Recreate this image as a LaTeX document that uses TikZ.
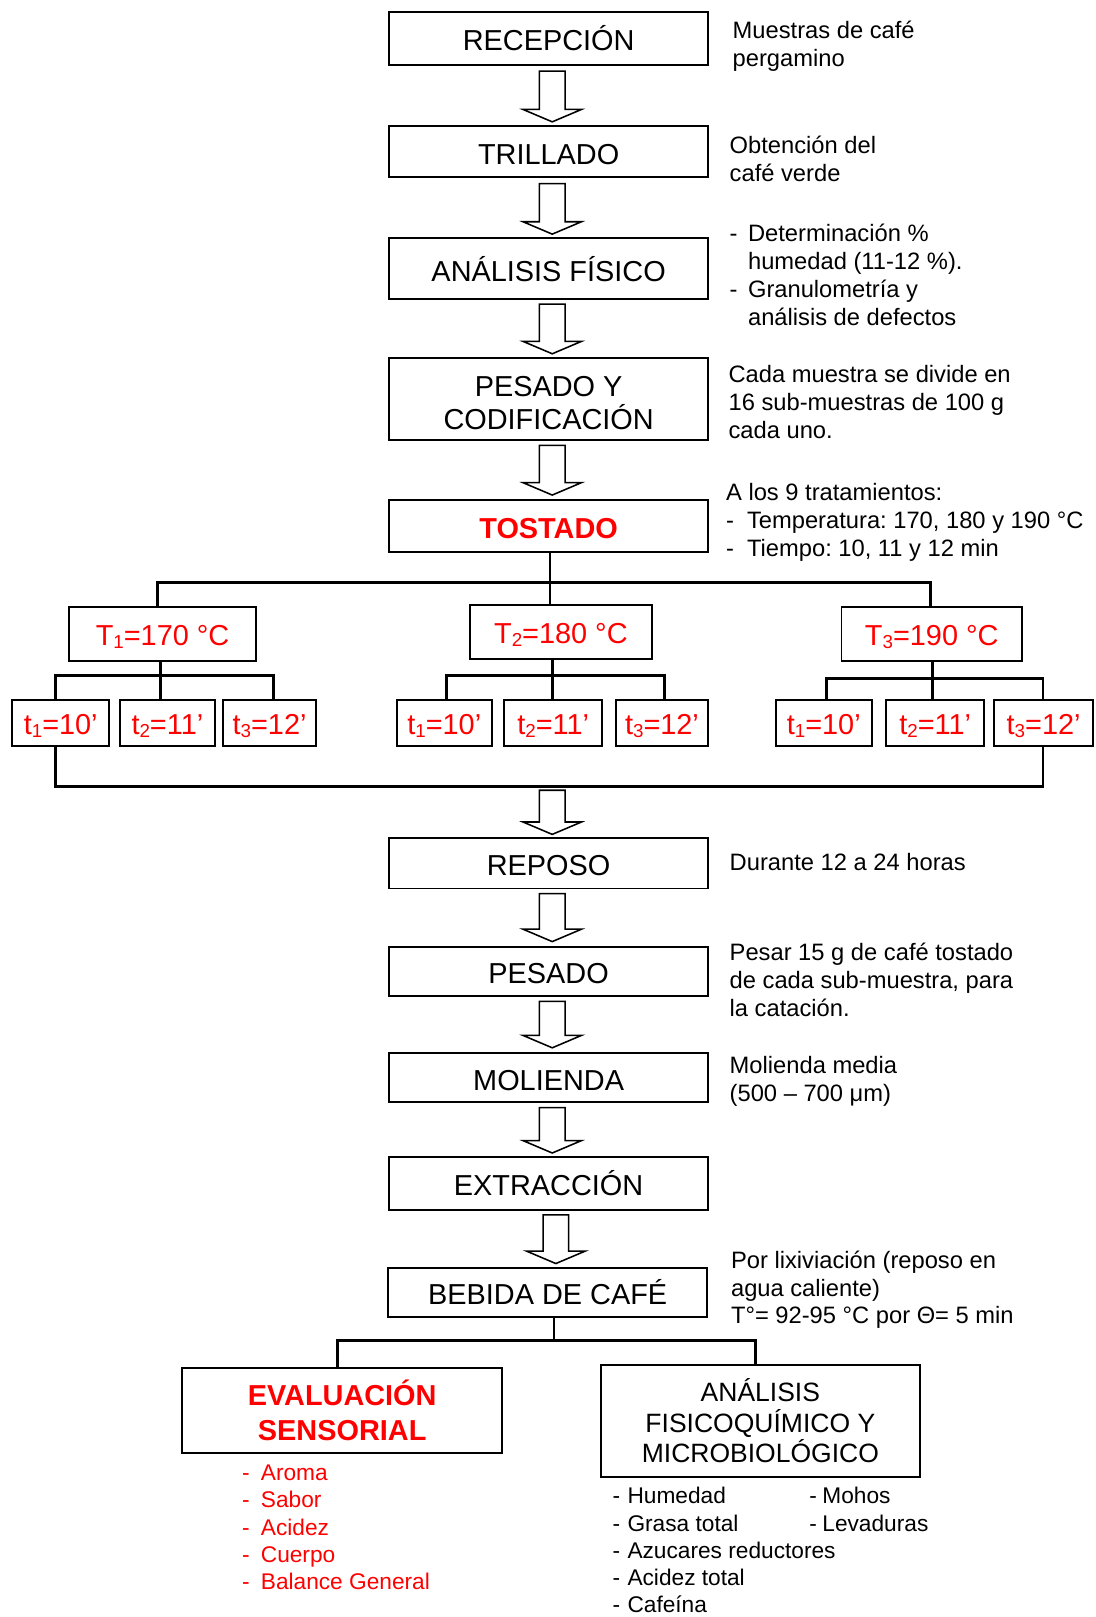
\documentclass[tikz,border=0pt]{standalone}
\usepackage{fontspec}
\setmainfont{Liberation Sans}
\usetikzlibrary{calc}
% small lowered index, as in T1, t2
\newcommand\sbs[1]{\raisebox{-0.1em}{\scalebox{0.65}{#1}}}
% hollow block arrow from a top point (#1) down to a tip (#2)
\newcommand\bigarrow[2]{%
  \draw[blockarrow] let \p1=(#1), \p2=(#2) in
    (\x1-12.4pt,\y1) -- (\x1+12.4pt,\y1) -- (\x1+12.4pt,\y2+12pt) --
    (\x1+28.3pt,\y2+12pt) -- (\x1,\y2) -- (\x1-28.3pt,\y2+12pt) --
    (\x1-12.4pt,\y2+12pt) -- cycle;}

\begin{document}
\frenchspacing
\begin{tikzpicture}[x=1pt,y=-1pt,
  box/.style={draw=black, line width=1.9pt, inner sep=0pt, align=center,
    font=\fontsize{28}{32}\selectfont},
  mainbox/.style={box, minimum width=310pt, text height=24pt, text depth=0pt},
  tempbox/.style={box, text=red, minimum height=52pt, text height=22pt, text depth=0pt},
  timebox/.style={box, text=red, minimum height=45.3pt, text height=22pt, text depth=0pt},
  link/.style={draw=black, line width=2.7pt, line join=miter},
  blockarrow/.style={draw=black, line width=1.5pt, fill=white, line join=miter},
  side/.style={anchor=north west, inner sep=0pt, align=left,
    font={\fontsize{23}{27}\selectfont\lineskiplimit=-30pt}},
  listtext/.style={anchor=north west, inner sep=0pt, align=left,
    font={\fontsize{22}{26.4}\selectfont\lineskiplimit=-30pt}}
]
\fill[white] (0,0) rectangle (1062,1568);
\useasboundingbox (0,0) rectangle (1062,1568);

% ---- main process column ----
\node[mainbox, minimum height=51.7pt] (rec) at (532,37.2) {RECEPCIÓN};
\node[mainbox, minimum height=50pt] (tri) at (532,147.1) {TRILLADO};
\node[mainbox, minimum height=59pt] (ana) at (532,260.5) {ANÁLISIS FÍSICO};
\node[box, minimum width=310pt, minimum height=80pt] (pes) at (532,387)
  {\rule{0pt}{28pt}PESADO Y\\CODIFICACIÓN};
\node[mainbox, minimum height=50pt, text=red,
  font=\fontsize{28}{32}\selectfont\bfseries] (tos) at (532,510) {TOSTADO};

% ---- roasting temperatures ----
\node[tempbox, minimum width=182.2pt] (T1) at (157.6,614.8) {T\sbs{1}=170 °C};
\node[tempbox, minimum width=176pt] (T2) at (543.9,613.1) {T\sbs{2}=180 °C};
\node[tempbox, minimum width=175pt] (T3) at (903.5,614.9) {T\sbs{3}=190 °C};

% ---- roasting times ----
\node[timebox, minimum width=93.6pt] (a1) at (58.9,701) {t\sbs{1}=10’};
\node[timebox, minimum width=92.5pt] (a2) at (162.3,701) {t\sbs{2}=11’};
\node[timebox, minimum width=89.7pt] (a3) at (261.4,701) {t\sbs{3}=12’};
\node[timebox, minimum width=92.5pt] (b1) at (430.8,701) {t\sbs{1}=10’};
\node[timebox, minimum width=95pt] (b2) at (536.5,701) {t\sbs{2}=11’};
\node[timebox, minimum width=90pt] (b3) at (641.9,701) {t\sbs{3}=12’};
\node[timebox, minimum width=92.6pt] (c1) at (798.8,701) {t\sbs{1}=10’};
\node[timebox, minimum width=95.4pt] (c2) at (906.9,701) {t\sbs{2}=11’};
\node[timebox, minimum width=96pt] (c3) at (1012,701) {t\sbs{3}=12’};

% ---- after roasting ----
\node[mainbox, minimum height=48.5pt] (rep) at (532,837.3) {REPOSO};
\node[mainbox, minimum height=48pt] (pesa) at (532,942) {PESADO};
\node[mainbox, minimum height=48pt] (mol) at (532,1045) {MOLIENDA};
\node[mainbox, minimum height=51pt] (ext) at (532,1147.5) {EXTRACCIÓN};
\node[mainbox, minimum width=309.4pt, minimum height=48pt] (beb) at (531.1,1253.2) {BEBIDA DE CAFÉ};
\node[box, minimum width=310.3pt, minimum height=82.2pt, text=red,
  font=\fontsize{28}{33}\selectfont\bfseries] (eval) at (331.8,1367.6) {EVALUACIÓN\\SENSORIAL};
\node[box, minimum width=309.8pt, minimum height=109pt,
  font=\fontsize{25.7}{29.5}\selectfont] (fq) at (737.3,1377.8)
  {ANÁLISIS\\FISICOQUÍMICO Y\\MICROBIOLÓGICO};

% ---- junctions ----
\coordinate (barT) at (533.4,564.5);
\coordinate (jA) at (155.9,655.4);
\coordinate (jB) at (535.8,655.4);
\coordinate (jC) at (903.9,657.6);
\coordinate (col) at (535.5,762.3);
\coordinate (jD) at (537.3,1299.7);

% ---- tree connectors ----
\draw[link] (tos.south -| barT) -- (barT |- T2.north);
\draw[link] ([xshift=-5.2pt]T1.north) |- (barT) -| ([xshift=-1.4pt]T3.north);

\draw[link] (T1.south -| jA) -- (jA |- a2.north);
\draw[link] ([xshift=-5.2pt]a1.north) |- (jA) -| ([xshift=3.5pt]a3.north);
\draw[link] (T2.south -| jB) -- (jB |- b2.north);
\draw[link] ([xshift=1.8pt]b1.north) |- (jB) -| ([xshift=2.7pt]b3.north);
\draw[link] (T3.south -| jC) -- (jC |- c2.north);
\draw[link] ([xshift=2.4pt]c1.north) |- (jC) -| ([xshift=-0.7pt]c3.north);

\draw[link] ([xshift=-5.2pt]a1.south) |- (col) -| ([xshift=-0.7pt]c3.south);

\draw[link] (beb.south -| jD) -- (jD);
\draw[link] ([xshift=-4.7pt]eval.north) |- (jD) -| ([xshift=-4.9pt]fq.north);

% ---- block arrows ----
\bigarrow{[xshift=3.5pt,yshift=-5pt]rec.south}{[yshift=3pt]tri.north}
\bigarrow{[xshift=3.5pt,yshift=-5pt]tri.south}{[yshift=3pt]ana.north}
\bigarrow{[xshift=3.5pt,yshift=-4pt]ana.south}{[yshift=3pt]pes.north}
\bigarrow{[xshift=3.5pt,yshift=-4pt]pes.south}{[yshift=4pt]tos.north}
\bigarrow{[yshift=-4pt]col}{[yshift=3pt]rep.north}
\bigarrow{[xshift=3.5pt,yshift=-4pt]rep.south}{[yshift=4pt]pesa.north}
\bigarrow{[xshift=3.5pt,yshift=-4pt]pesa.south}{[yshift=4pt]mol.north}
\bigarrow{[xshift=3.5pt,yshift=-4pt]mol.south}{[yshift=3pt]ext.north}
\bigarrow{[xshift=7pt,yshift=-4pt]ext.south}{[yshift=3pt]beb.north}

% ---- side notes ----
\node[side] (n1) at (710.3,18.0) {\strut Muestras de café\\pergamino};
\node[side] (n2) at (707.4,130.2) {\strut Obtención del\\café verde};
\node[side] (n3) at (707.4,215.5) {\strut\makebox[17.8pt][l]{-}Determinación \%\\
  \hspace*{17.8pt}humedad (11-12 \%).\\
  \makebox[17.8pt][l]{-}Granulometría y\\
  \hspace*{17.8pt}análisis de defectos};
\node[side] (n4) at (706.3,351.8) {\strut Cada muestra se divide en\\16 sub-muestras de 100 g\\cada uno.};
\node[side] (n5) at (703.9,466.2) {\strut A los 9 tratamientos:\\
  \makebox[20.3pt][l]{-}Temperatura: 170, 180 y 190 °C\\
  \makebox[20.3pt][l]{-}Tiempo: 10, 11 y 12 min};
\node[side] (n6) at (707.4,824.9) {\strut Durante 12 a 24 horas};
\node[side] (n7) at (707.4,912.6) {\strut Pesar 15 g de café tostado\\de cada sub-muestra, para\\la catación.};
\node[side] (n8) at (707.4,1022.1) {\strut Molienda media\\(500 – 700 μm)};
\node[side] (n9) at (708.7,1210.7) {\strut Por lixiviación (reposo en\\agua caliente)\\T°= 92-95 °C por Θ= 5 min};

% ---- analysis lists ----
\node[listtext, text=red] (sens) at (234.5,1417) {\strut\makebox[18.3pt][l]{-}Aroma\\
  \makebox[18.3pt][l]{-}Sabor\\
  \makebox[18.3pt][l]{-}Acidez\\
  \makebox[18.3pt][l]{-}Cuerpo\\
  \makebox[18.3pt][l]{-}Balance General};
\node[listtext] (fqa) at (593.8,1439.6) {\strut\makebox[14.5pt][l]{-}Humedad\\
  \makebox[14.5pt][l]{-}Grasa total\\
  \makebox[14.5pt][l]{-}Azucares reductores\\
  \makebox[14.5pt][l]{-}Acidez total\\
  \makebox[14.5pt][l]{-}Cafeína};
\node[listtext] (fqb) at (784.6,1439.6) {\strut\makebox[12.7pt][l]{-}Mohos\\
  \makebox[12.7pt][l]{-}Levaduras};
\end{tikzpicture}
\end{document}
